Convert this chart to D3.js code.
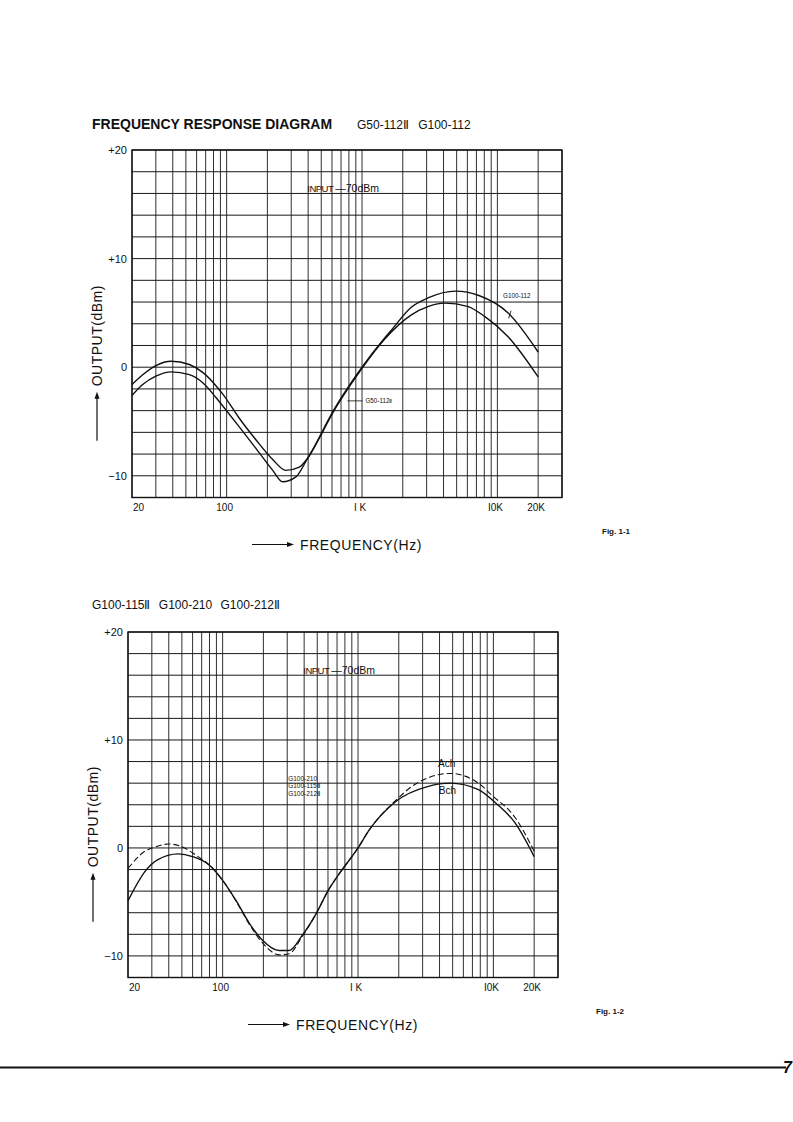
<!DOCTYPE html>
<html lang="en">
<head>
<meta charset="utf-8">
<title>Frequency Response Diagram</title>
<script src="https://d3js.org/d3.v7.min.js"></script>
<style>
  body { margin: 0; background: #fff; }
  svg text { font-family: "Liberation Sans", Arial, Helvetica, sans-serif; fill: #111; }
</style>
</head>
<body>
<div id="page"></div>
<script>

// grid and tick values
var gridHz = [20, 30, 40, 50, 60, 70, 80, 90,
              100, 200, 300, 400, 500, 600, 700, 800, 900,
              1000, 2000, 3000, 4000, 5000, 6000, 7000, 8000, 9000,
              10000, 20000, 30000];
var gridDb = [-12, -10, -8, -6, -4, -2, 0, 2, 4, 6, 8, 10, 12, 14, 16, 18, 20];
var xTickHz = [20, 100, 1000, 10000, 20000];
var xTickLabels = ["20", "100", "I K", "I0K", "20K"];
var yTickDb = [20, 10, 0, -10];
var yTickLabels = ["+20", "+10", "0", "\u221210"];

// Fig. 1-1  G100-112
var g100_112_hz = [20, 24, 30, 39, 53, 67, 84, 94, 124, 165, 219, 274, 344, 396, 510, 572,
                   1000, 1450, 1670, 2300, 3100, 4900, 7300, 12000, 20000];
var g100_112_db = [-1.6, -0.7, 0.15, 0.55, 0.25, -0.5, -1.75, -2.5, -4.7, -6.7, -8.5, -9.5, -9.2, -8.4, -5.9, -4.7,
                   0, 2.6, 3.5, 5.5, 6.4, 7.0, 6.6, 5.0, 1.4];

// Fig. 1-1  G50-112II
var g50_112_hz = [20, 24, 30, 39, 53, 67, 84, 94, 124, 165, 219, 259, 325, 396, 510, 572,
                  1000, 1450, 2300, 3100, 4100, 6000, 8000, 12000, 20000];
var g50_112_db = [-2.6, -1.6, -0.83, -0.43, -0.68, -1.45, -2.84, -3.6, -5.5, -7.5, -9.5, -10.55, -10.1, -8.4, -6.0, -4.8,
                  -0.1, 2.5, 4.8, 5.6, 5.9, 5.6, 4.7, 2.8, -0.9];

// Fig. 1-2  Ach (dashed)
var ach_hz = [20, 26, 32, 40, 51, 64, 80, 100, 126, 158, 197, 262, 310, 387, 490, 611, 725,
              1000, 1200, 1900, 2500, 3300, 4800, 7750, 9700, 14500, 20000];
var ach_db = [-1.9, -0.4, 0.1, 0.37, 0.06, -0.7, -1.6, -3.0, -4.95, -7.1, -8.8, -9.9, -9.8, -8.2, -6.1, -3.8, -2.4,
              0, 1.6, 4.4, 5.7, 6.5, 6.9, 6.0, 4.9, 2.8, -0.3];

// Fig. 1-2  Bch (solid)
var bch_hz = [20, 27, 33, 47, 60, 80, 100, 126, 158, 197, 262, 310, 387, 490, 611, 725,
              1000, 1200, 1900, 3300, 4800, 7750, 10300, 14500, 20000];
var bch_db = [-4.9, -2.1, -1.1, -0.55, -0.8, -1.6, -3.0, -4.9, -7.0, -8.55, -9.5, -9.5, -8.1, -6.1, -3.8, -2.4,
              0.0, 1.6, 4.3, 5.7, 6.0, 5.4, 4.2, 2.3, -0.8];

var svg = d3.select("#page")
  .append("svg")
    .attr("width", 793)
    .attr("height", 1122);

svg.append("rect")
  .attr("width", 793).attr("height", 1122).attr("fill", "#fff");

function pairs(hz, db) {
  return hz.map(function(f, i) { return [f, db[i]]; });
}

// draws one grid panel with its axes, returns the scales
function drawChart(c) {
  var x = d3.scaleLog().domain([20, 30000]).range([c.left, c.right]);
  var y = d3.scaleLinear().domain([-12, 20]).range([c.bottom, c.top]);
  var g = svg.append("g");

  g.selectAll(".hgrid")
    .data(gridDb)
    .enter().append("line")
      .attr("x1", c.left).attr("x2", c.right)
      .attr("y1", function(d) { return y(d); })
      .attr("y2", function(d) { return y(d); })
      .attr("stroke", "#1a1a1a")
      .attr("stroke-width", 1);

  g.selectAll(".vgrid")
    .data(gridHz)
    .enter().append("line")
      .attr("x1", function(d) { return x(d); })
      .attr("x2", function(d) { return x(d); })
      .attr("y1", c.top).attr("y2", c.bottom)
      .attr("stroke", "#1a1a1a")
      .attr("stroke-width", 0.9);

  g.append("rect")
    .attr("x", c.left).attr("y", c.top)
    .attr("width", c.right - c.left).attr("height", c.bottom - c.top)
    .attr("fill", "none").attr("stroke", "#111").attr("stroke-width", 1.4);

  // x axis labels
  g.selectAll(".xl")
    .data(xTickHz)
    .enter().append("text")
      .attr("x", function(d, i) { return i == 0 ? x(d) + 1 : x(d) - 2; })
      .attr("y", c.bottom + 13)
      .attr("text-anchor", function(d, i) { return i == 0 ? "start" : "middle"; })
      .attr("font-size", 10)
      .text(function(d, i) { return xTickLabels[i]; });

  // y axis labels
  g.selectAll(".yl")
    .data(yTickDb)
    .enter().append("text")
      .attr("x", c.left - 5)
      .attr("y", function(d) { return y(d) + 4; })
      .attr("text-anchor", "end")
      .attr("font-size", 11)
      .text(function(d, i) { return yTickLabels[i]; });

  // y title with arrow
  var ty = (c.top + c.bottom) / 2 + 12;
  g.append("text")
    .attr("transform", "translate(" + (c.left - 30) + "," + ty + ") rotate(-90)")
    .attr("text-anchor", "middle")
    .attr("font-size", 14)
    .attr("letter-spacing", 0.5)
    .text("OUTPUT(dBm)");
  g.append("line")
    .attr("x1", c.left - 35).attr("x2", c.left - 35)
    .attr("y1", ty + 105).attr("y2", ty + 60)
    .attr("stroke", "#111").attr("stroke-width", 1.2);
  g.append("path")
    .attr("d", "M" + (c.left - 35) + "," + (ty + 56) + "l-2.5,7h5z")
    .attr("fill", "#111");

  // x title with arrow
  var tx = c.left + 168;
  g.append("line")
    .attr("x1", tx - 48).attr("x2", tx - 10)
    .attr("y1", c.bottom + 47).attr("y2", c.bottom + 47)
    .attr("stroke", "#111").attr("stroke-width", 1.2);
  g.append("path")
    .attr("d", "M" + (tx - 6) + "," + (c.bottom + 47) + "l-7,-2.5v5z")
    .attr("fill", "#111");
  g.append("text")
    .attr("x", tx).attr("y", c.bottom + 52)
    .attr("font-size", 14)
    .attr("letter-spacing", 0.6)
    .text("FREQUENCY(Hz)");

  // input level note
  g.append("text")
    .attr("x", x(c.inputHz)).attr("y", y(16.15))
    .attr("font-size", 9.5)
    .attr("letter-spacing", -0.5)
    .text("INPUT");
  g.append("text")
    .attr("x", x(c.inputHz) + 28).attr("y", y(16.15))
    .attr("font-size", 10.5)
    .text("\u201470dBm");

  return { x: x, y: y, g: g };
}

var line = function(s) {
  return d3.line()
    .x(function(d) { return s.x(d[0]); })
    .y(function(d) { return s.y(d[1]); })
    .curve(d3.curveMonotoneX);
};

// ---------- Fig. 1-1 ----------
svg.append("text")
  .attr("x", 92).attr("y", 129)
  .attr("font-size", 14).attr("font-weight", "bold")
  .text("FREQUENCY RESPONSE DIAGRAM");
svg.append("text")
  .attr("x", 357).attr("y", 129)
  .attr("font-size", 12)
  .attr("word-spacing", 6)
  .text("G50-112\u2161 G100-112");

var c1 = drawChart({ left: 132, right: 562, top: 150, bottom: 497.5, inputHz: 394 });

c1.g.append("path")
  .datum(pairs(g100_112_hz, g100_112_db))
  .attr("d", line(c1))
  .attr("fill", "none").attr("stroke", "#111").attr("stroke-width", 1.4);
c1.g.append("path")
  .datum(pairs(g50_112_hz, g50_112_db))
  .attr("d", line(c1))
  .attr("fill", "none").attr("stroke", "#111").attr("stroke-width", 1.4);

c1.g.append("text")
  .attr("x", c1.x(11000)).attr("y", c1.y(6.4))
  .attr("font-size", 6.3)
  .text("G100-112");
c1.g.append("line")
  .attr("x1", c1.x(12600)).attr("x2", c1.x(12100))
  .attr("y1", c1.y(5.2)).attr("y2", c1.y(4.5))
  .attr("stroke", "#111").attr("stroke-width", 0.9);
c1.g.append("line")
  .attr("x1", c1.x(780)).attr("x2", c1.x(1010))
  .attr("y1", c1.y(-3.1)).attr("y2", c1.y(-3.1))
  .attr("stroke", "#111").attr("stroke-width", 0.8);
c1.g.append("text")
  .attr("x", c1.x(1060)).attr("y", c1.y(-3.1) + 2)
  .attr("font-size", 6.3)
  .text("G50-112\u2161");

svg.append("text")
  .attr("x", 602).attr("y", 534)
  .attr("font-size", 8).attr("font-weight", "bold")
  .text("Fig. 1-1");

// ---------- Fig. 1-2 ----------
svg.append("text")
  .attr("x", 92).attr("y", 609)
  .attr("font-size", 12)
  .attr("word-spacing", 5)
  .text("G100-115\u2161 G100-210 G100-212\u2161");

var c2 = drawChart({ left: 128, right: 558, top: 632, bottom: 977.5, inputHz: 394 });

c2.g.append("path")
  .datum(pairs(bch_hz, bch_db))
  .attr("d", line(c2))
  .attr("fill", "none").attr("stroke", "#111").attr("stroke-width", 1.4);
c2.g.append("path")
  .datum(pairs(ach_hz, ach_db))
  .attr("d", line(c2))
  .attr("fill", "none").attr("stroke", "#111").attr("stroke-width", 1.1)
  .attr("stroke-dasharray", "6,3");

var modelNames = ["G100-210", "G100-115\u2161", "G100-212\u2161"];
c2.g.selectAll(".mn")
  .data(modelNames)
  .enter().append("text")
    .attr("x", c2.x(305))
    .attr("y", function(d, i) { return c2.y(6.2) + i * 7.5; })
    .attr("font-size", 6.5)
    .text(function(d) { return d; });

c2.g.append("text")
  .attr("x", c2.x(3900)).attr("y", c2.y(7.5))
  .attr("font-size", 10)
  .text("Ach");
c2.g.append("text")
  .attr("x", c2.x(3950)).attr("y", c2.y(5.0))
  .attr("font-size", 10)
  .text("Bch");

svg.append("text")
  .attr("x", 596).attr("y", 1014)
  .attr("font-size", 8).attr("font-weight", "bold")
  .text("Fig. 1-2");

// ---------- page footer ----------
svg.append("line")
  .attr("x1", 0).attr("x2", 786)
  .attr("y1", 1067.5).attr("y2", 1067.5)
  .attr("stroke", "#111").attr("stroke-width", 2);
svg.append("text")
  .attr("x", 783).attr("y", 1073)
  .attr("font-size", 16).attr("font-weight", "bold").attr("font-style", "italic")
  .text("7");

</script>
</body>
</html>
